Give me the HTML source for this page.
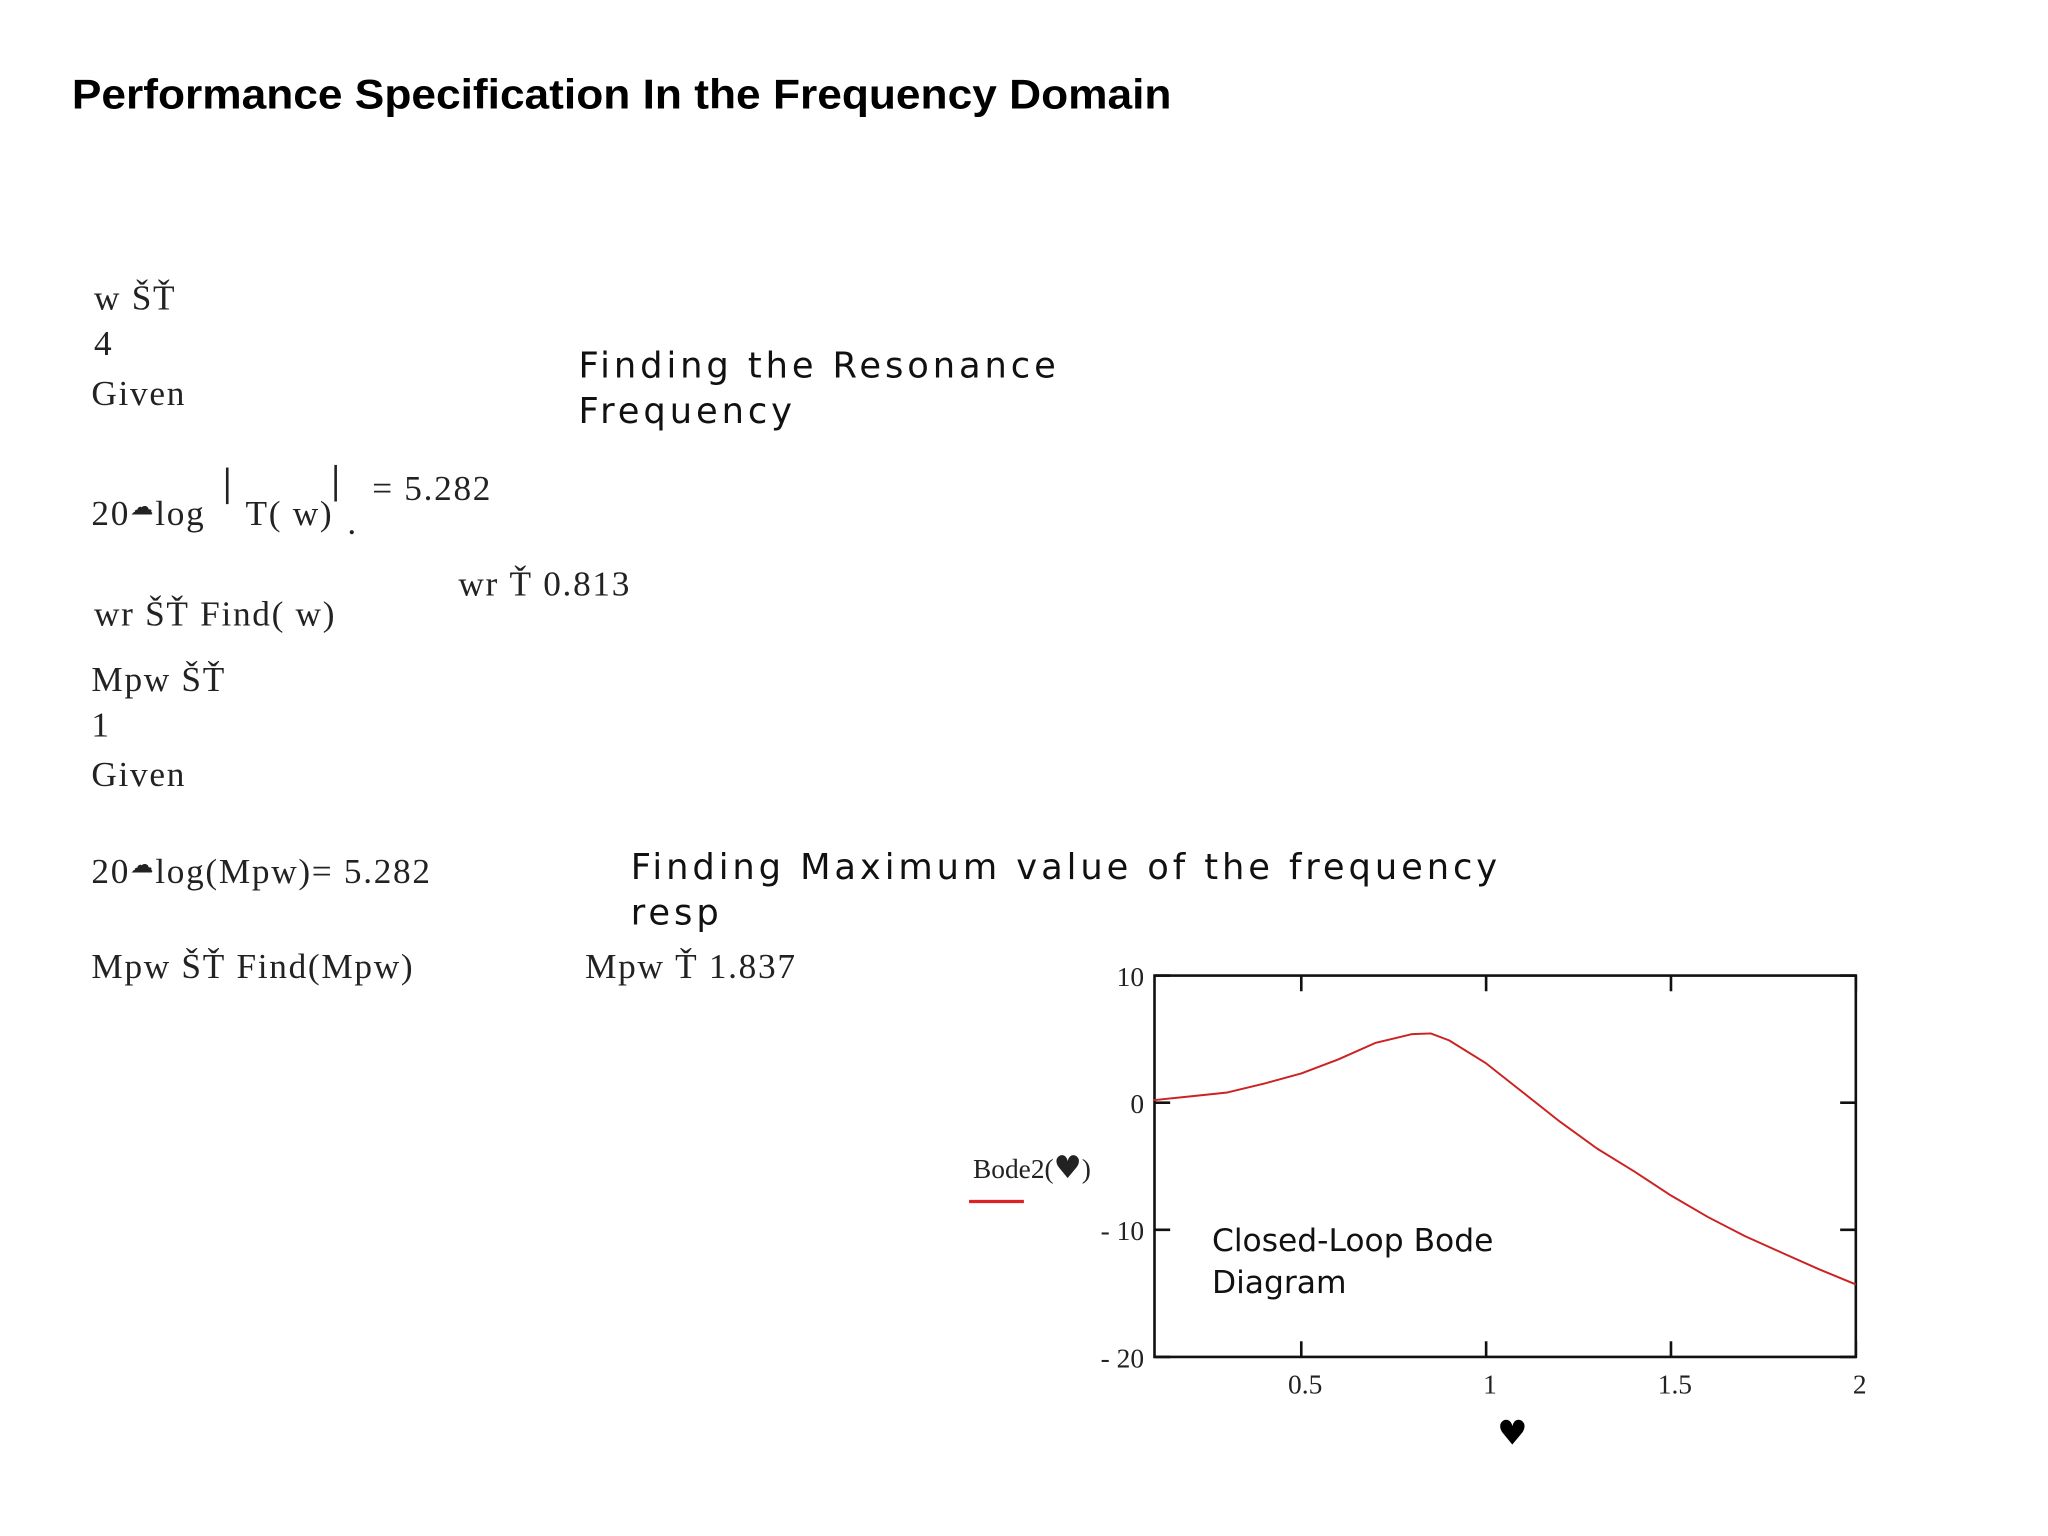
<!DOCTYPE html>
<html><head><meta charset="utf-8"><style>
html,body{margin:0;padding:0;background:#fff;}
svg{display:block;}
.m{font-family:"Liberation Serif",serif;font-size:27px;fill:#222;letter-spacing:1.3px;}
.s{font-family:"DejaVu Sans","Liberation Sans",sans-serif;font-size:27px;fill:#111;letter-spacing:3px;}
.t{font-family:"Liberation Serif",serif;font-size:21px;fill:#222;}
</style></head><body>
<svg id="root" width="2048" height="1536" viewBox="0 0 2048 1536">
<g transform="scale(1.306)">
<text x="55" y="83" font-family="Liberation Sans, sans-serif" font-weight="bold" font-size="32" textLength="842" lengthAdjust="spacingAndGlyphs" fill="#000">Performance Specification In the Frequency Domain</text>

<text class="m" x="72" y="237">w ŠŤ</text>
<text class="m" x="72" y="272">4</text>
<text class="m" x="70" y="310">Given</text>
<text class="s" x="443" y="289">Finding the Resonance</text>
<text class="s" x="443" y="324">Frequency</text>

<text class="m" x="70" y="402">20<tspan font-family="DejaVu Sans" font-size="18" dy="-8">☁</tspan><tspan dy="8">log</tspan></text>
<line x1="174" y1="358" x2="174" y2="386" stroke="#222" stroke-width="2"/>
<text class="m" x="188" y="402">T( w)</text>
<line x1="257" y1="356" x2="257" y2="384" stroke="#222" stroke-width="2"/>
<text class="m" x="266" y="409">.</text>
<text class="m" x="285" y="383">= 5.282</text>

<text class="m" x="351" y="456">wr Ť 0.813</text>
<text class="m" x="72" y="479">wr ŠŤ Find( w)</text>

<text class="m" x="70" y="529">Mpw ŠŤ</text>
<text class="m" x="70" y="564">1</text>
<text class="m" x="70" y="602">Given</text>

<text class="m" x="70" y="676">20<tspan font-family="DejaVu Sans" font-size="18" dy="-8">☁</tspan><tspan dy="8">log(Mpw)= 5.282</tspan></text>
<text class="s" x="483" y="673">Finding Maximum value of the frequency</text>
<text class="s" x="483" y="708" letter-spacing="0">resp</text>

<text class="m" x="70" y="749">Mpw ŠŤ Find(Mpw)</text>
<text class="m" x="448" y="749">Mpw Ť 1.837</text>

<g id="chart"></g>
</g>
</svg>
<script>
const xTicks=[0.5,1,1.5,2];
const xTickLabels=["0.5","1","1.5","2"];
const yTicks=[10,0,-10,-20];
const yTickLabels=["10","0","- 10","- 20"];
const freqs=[0.1,0.2,0.3,0.4,0.5,0.6,0.7,0.8,0.85,0.9,1.0,1.1,1.2,1.3,1.4,1.5,1.6,1.7,1.8,1.9,2.0];
const gainDb=[0.2,0.5,0.8,1.5,2.3,3.4,4.7,5.4,5.45,4.9,3.1,0.8,-1.5,-3.6,-5.4,-7.3,-9.0,-10.5,-11.8,-13.1,-14.3];

const L=884,R=1421,T=747,B=1039,X0=0.103,X1=2,Y0=-20,Y1=10;
const sx=v=>L+(v-X0)/(X1-X0)*(R-L);
const sy=v=>B-(v-Y0)/(Y1-Y0)*(B-T);
const NS="http://www.w3.org/2000/svg";
const g=document.getElementById('chart');
function mk(tag,attrs,name){const e=document.createElementNS(NS,tag);for(const k in attrs)e.setAttribute(k,attrs[k]);


g.appendChild(e);return e;}
mk('rect',{x:L,y:T,width:R-L,height:B-T,fill:'none',stroke:'#111','stroke-width':2},'plot-frame');
xTicks.forEach((v,i)=>{
  mk('line',{x1:sx(v),y1:T,x2:sx(v),y2:T+12,stroke:'#111','stroke-width':2},'x-tick-top');
  mk('line',{x1:sx(v),y1:B,x2:sx(v),y2:B-12,stroke:'#111','stroke-width':2},'x-tick-bottom');
  const t=mk('text',{x:sx(v)+3,y:B+28,'text-anchor':'middle',class:'t'},'x-tick-label');t.textContent=xTickLabels[i];
});
yTicks.forEach((v,i)=>{
  mk('line',{x1:L,y1:sy(v),x2:L+12,y2:sy(v),stroke:'#111','stroke-width':2},'y-tick-left');
  mk('line',{x1:R,y1:sy(v),x2:R-12,y2:sy(v),stroke:'#111','stroke-width':2},'y-tick-right');
  const t=mk('text',{x:L-8,y:sy(v)+8,'text-anchor':'end',class:'t'},'y-tick-label');t.textContent=yTickLabels[i];
});
let d='';freqs.forEach((f,i)=>{d+=(i?'L':'M')+sx(f).toFixed(1)+','+sy(gainDb[i]).toFixed(1);});
mk('path',{d:d,fill:'none',stroke:'#cc2222','stroke-width':1.5,'stroke-linejoin':'round'},'bode-curve');
const yl=mk('text',{x:745,y:902,class:'t'},'y-axis-title');yl.innerHTML='Bode2(<tspan font-family="DejaVu Sans" font-size="24">♥</tspan>)';
mk('line',{x1:742,y1:920,x2:784,y2:920,stroke:'#dd2222','stroke-width':2.5},'legend-swatch');
const c1=mk('text',{x:928,y:958,'font-family':'DejaVu Sans, sans-serif','font-size':24,fill:'#111'},'chart-annotation');c1.textContent='Closed-Loop Bode';
const c2=mk('text',{x:928,y:990,'font-family':'DejaVu Sans, sans-serif','font-size':24,fill:'#111'},'chart-annotation-2');c2.textContent='Diagram';
const xl=mk('text',{x:1158,y:1106,'text-anchor':'middle','font-family':'DejaVu Sans, sans-serif','font-size':26,fill:'#000'},'x-axis-title');xl.textContent='♥';
</script>
</body></html>
